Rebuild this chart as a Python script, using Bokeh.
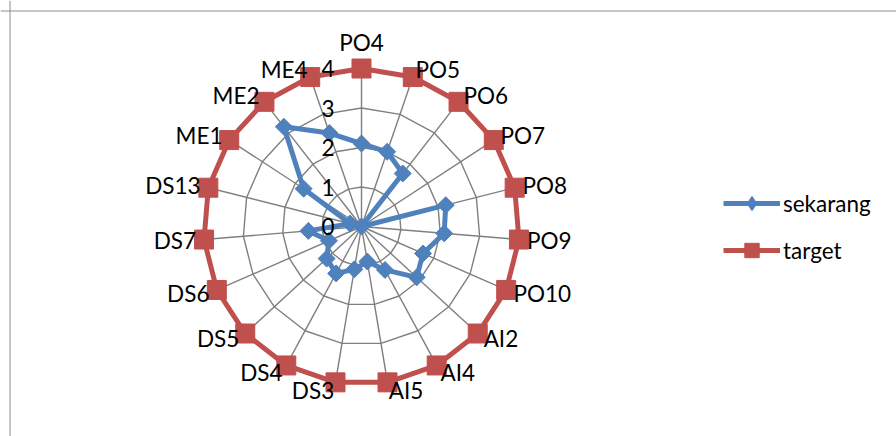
import numpy as np
from bokeh.plotting import figure
from bokeh.models import Range1d, Span, Legend, LegendItem, ColumnDataSource
from bokeh.core.properties import value
from bokeh.embed import file_html
from bokeh.resources import INLINE

# ---------------- data ----------------
categories = ["PO4", "PO5", "PO6", "PO7", "PO8", "PO9", "PO10", "AI2", "AI4", "AI5",
              "DS3", "DS4", "DS5", "DS6", "DS7", "DS13", "ME1", "ME2", "ME4"]
sekarang = [2.1, 2.0, 1.7, 0.0, 2.2, 2.1, 1.7, 1.9, 1.25, 0.9,
            1.1, 1.35, 1.2, 0.9, 1.35, 0.3, 1.75, 3.2, 2.5]
target = [4, 4, 4, 4, 4, 4, 4, 4, 4, 4,
          4, 4, 4, 4, 4, 4, 4, 4, 4]
tick_values = [0, 1, 2, 3, 4]
tick_labels = ["0", "1", "2", "3", "4"]
series_names = ["sekarang", "target"]

# ---------------- layout / style ----------------
W, H = 896, 436
CX, CY = 361, 226          # centre of the radar in pixels (from top-left)
PX = 39.5                  # pixels per value unit
FONT = "Lato"
FS = "22.5px"
BLUE = "#4F81BD"
RED = "#C0504D"
GRID = "#7f7f7f"
RMAX = max(tick_values)

n = len(categories)
theta = np.arange(n) * 2 * np.pi / n


def to_xy(r):
    r = np.asarray(r, dtype=float)
    return r * np.sin(theta), r * np.cos(theta)


p = figure(width=W, height=H, output_backend="svg", toolbar_location=None,
           x_range=Range1d(-CX / PX, (W - CX) / PX),
           y_range=Range1d(-(H - CY) / PX, CY / PX),
           x_axis_location=None, y_axis_location=None,
           min_border=0, outline_line_color=None,
           background_fill_color="white", border_fill_color="white")
p.grid.visible = False

# frame border (top and left edges visible in the reference)
p.add_layout(Span(location=(9.5 - CX) / PX, dimension="height",
                  line_color="#8c8c8c", line_width=1))
p.add_layout(Span(location=(CY - 10.5) / PX, dimension="width",
                  line_color="#8c8c8c", line_width=1))

# grid rings (polygons) and spokes
ring_xs, ring_ys = [], []
for t in tick_values[1:]:
    gx, gy = to_xy([t] * n)
    ring_xs.append(list(gx) + [gx[0]])
    ring_ys.append(list(gy) + [gy[0]])
p.multi_line(ring_xs, ring_ys, line_color=GRID, line_width=1.4)
sx, sy = to_xy([RMAX] * n)
p.segment(x0=np.zeros(n), y0=np.zeros(n), x1=sx, y1=sy, line_color=GRID, line_width=1.4)

# target series
tx, ty = to_xy(target)
red_line = p.line(list(tx) + [tx[0]], list(ty) + [ty[0]], line_color=RED, line_width=5)
p.scatter(tx, ty, marker="square", size=19, fill_color=RED, line_color=RED)

# sekarang series
bx, by = to_xy(sekarang)
blue_line = p.line(list(bx) + [bx[0]], list(by) + [by[0]], line_color=BLUE, line_width=5)
p.scatter(bx, by, marker="square", angle=np.pi / 4, size=12, fill_color=BLUE, line_color=BLUE)

# radial tick labels
p.text(x=[0] * len(tick_values), y=tick_values, text=tick_labels,
       x_offset=-27, text_align="right", text_baseline="middle",
       text_font=value(FONT), text_font_size=FS, text_color="black")

# category labels
lr = RMAX + 8 / PX
lx, ly = to_xy([lr] * n)
s = np.sin(theta)
c = np.cos(theta)
aligns = ["left" if v > 0.05 else ("right" if v < -0.05 else "center") for v in s]
baselines = ["middle" if abs(v) > 0.05 else ("bottom" if cc > 0 else "top") for v, cc in zip(s, c)]
yoff = [-5 if b == "bottom" else 0 for b in baselines]
src = ColumnDataSource(dict(x=lx, y=ly, text=categories, align=aligns, base=baselines, yoff=yoff))
p.text(x="x", y="y", text="text", source=src, text_align="align", text_baseline="base",
       y_offset="yoff", text_font=value(FONT), text_font_size=FS, text_color="black")

# legend markers: hidden renderers (legend still draws their glyphs)
blue_leg = p.scatter(x=bx[:1], y=by[:1], marker="diamond", fill_color=BLUE, line_color=BLUE,
                     visible=False)
red_leg = p.scatter(x=tx[:1], y=ty[:1], marker="square", fill_color=RED, line_color=RED,
                    visible=False)
legend = Legend(items=[LegendItem(label=series_names[0], renderers=[blue_line, blue_leg]),
                       LegendItem(label=series_names[1], renderers=[red_line, red_leg])],
                location=(723, 168), orientation="vertical",
                glyph_width=57, glyph_height=36, spacing=11, padding=0, margin=0,
                label_standoff=3, label_text_font=FONT, label_text_font_size=FS,
                label_text_color="black", border_line_color=None,
                background_fill_alpha=0)
p.add_layout(legend)

open("out.html", "w").write(file_html(p, INLINE))
